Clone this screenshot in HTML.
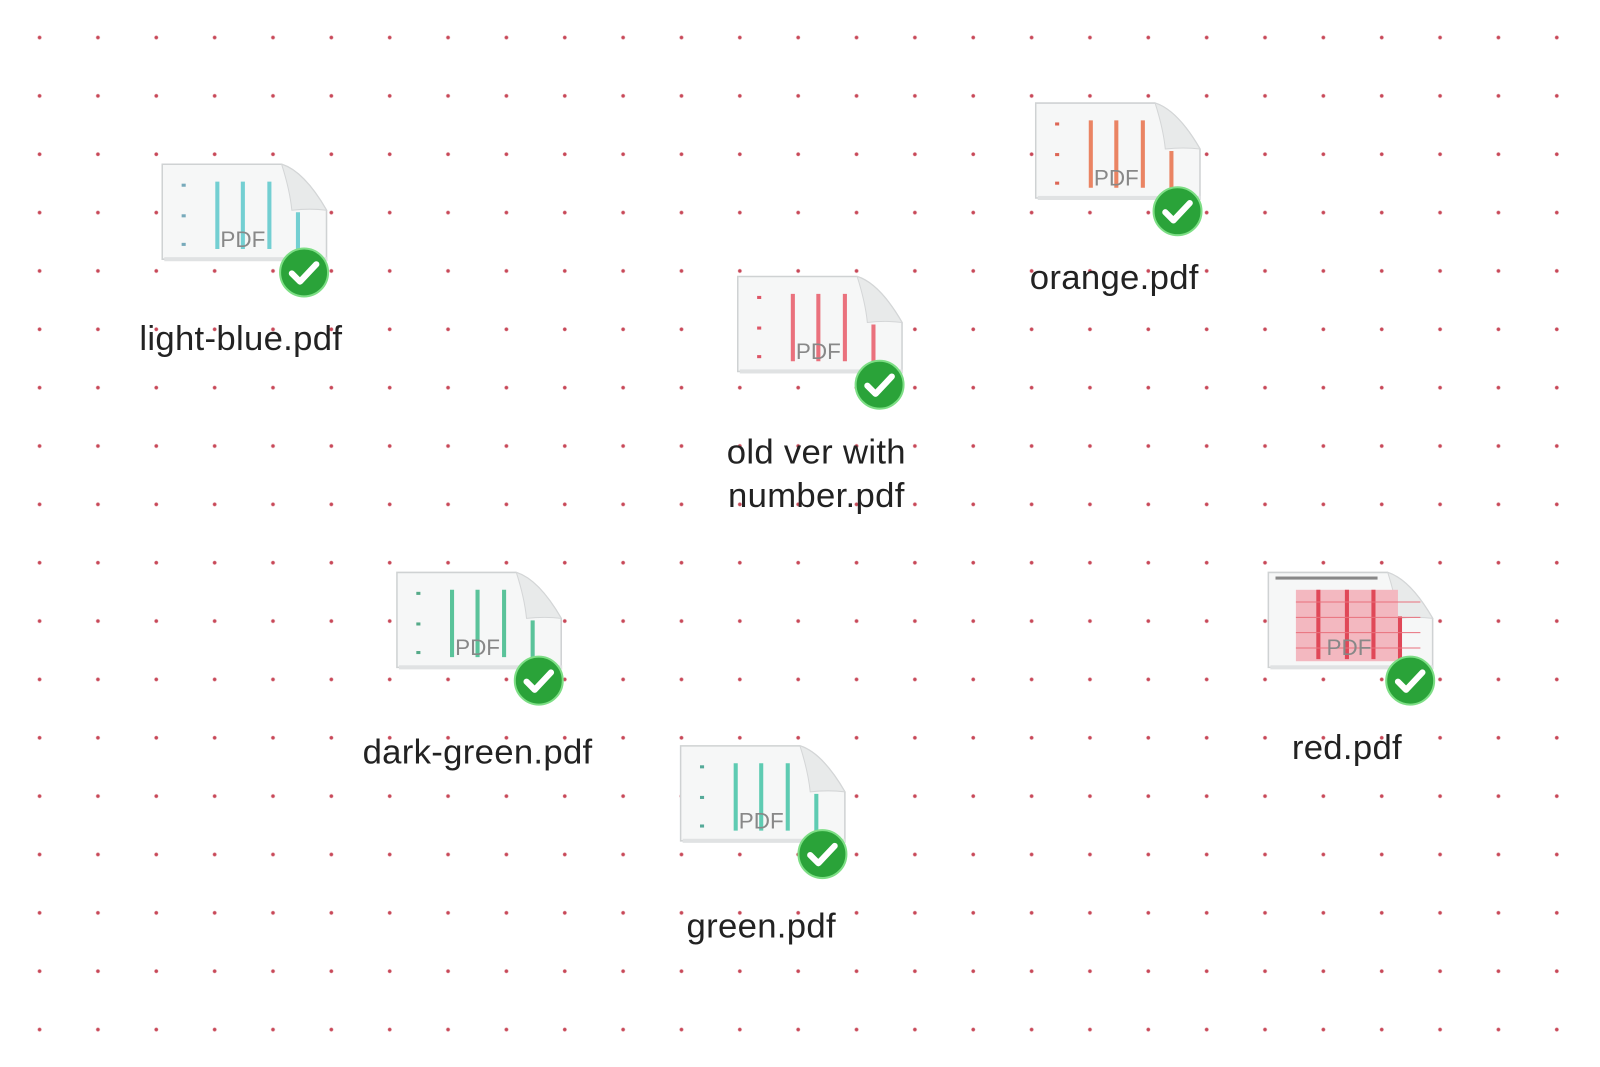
<!DOCTYPE html>
<html><head><meta charset="utf-8"><style>
html,body{margin:0;padding:0}
body{width:1600px;height:1067px;position:relative;overflow:hidden;background:#fff;font-family:"Liberation Sans",sans-serif}
#w{position:absolute;left:0;top:0;width:1568px;height:1046px;transform:scale(1.0204);transform-origin:0 0;
background-image:radial-gradient(circle,#c84858 1.4px,rgba(255,255,255,0) 2.2px);
background-size:57.2px 57.2px;background-position:10.2px 8.2px}
.ic{position:absolute;width:190px;height:140px}
.lb{position:absolute;font-size:34px;letter-spacing:0.3px;color:#222;text-align:center;width:300px;line-height:43px}
</style></head><body><div id="w">
<svg width="0" height="0" style="position:absolute">
<defs>
<symbol id="pg" viewBox="0 0 190 140">
<path d="M1,1 H118 Q140,8 162,46 V94 H1 Z" fill="#f6f7f7" stroke="#cfd2d3" stroke-width="1.5"/>
<path d="M118,1 Q126,26 128,46 Q146,44 162,46 Q140,8 118,1Z" fill="#e8eaea" stroke="#d4d6d7"/>
<rect x="3" y="92" width="160" height="4" fill="#e0e2e3"/>
</symbol>
<symbol id="ck" viewBox="0 0 50 50">
<circle cx="25" cy="25" r="23.5" fill="#2aa339" stroke="#7dde85" stroke-width="2"/>
<path d="M13,26 L21,34 L37,17" fill="none" stroke="#fff" stroke-width="6" stroke-linecap="round" stroke-linejoin="round"/>
</symbol>
</defs></svg>

<svg class="ic" style="left:158px;top:160px" viewBox="0 0 190 140"><use href="#pg"/>
<g stroke="#5cc8cc" stroke-width="4" opacity=".85"><line x1="55" y1="18" x2="55" y2="84"/><line x1="80" y1="18" x2="80" y2="84"/><line x1="106" y1="18" x2="106" y2="84"/><line x1="134" y1="48" x2="134" y2="88"/></g>
<g fill="#7ab"><rect x="20" y="20" width="4" height="3"/><rect x="20" y="50" width="4" height="3"/><rect x="20" y="78" width="4" height="3"/></g>
<text x="80" y="82" font-family="Liberation Sans" font-size="22" fill="#888" text-anchor="middle">PDF</text>
<use href="#ck" x="115" y="82" width="50" height="50"/></svg>
<div class="lb" style="left:86px;top:311px">light-blue.pdf</div>

<svg class="ic" style="left:1014px;top:100px" viewBox="0 0 190 140"><use href="#pg"/>
<g stroke="#e8704a" stroke-width="4" opacity=".85"><line x1="55" y1="18" x2="55" y2="84"/><line x1="80" y1="18" x2="80" y2="84"/><line x1="106" y1="18" x2="106" y2="84"/><line x1="134" y1="48" x2="134" y2="88"/></g>
<g fill="#d65"><rect x="20" y="20" width="4" height="3"/><rect x="20" y="50" width="4" height="3"/><rect x="20" y="78" width="4" height="3"/></g>
<text x="80" y="82" font-family="Liberation Sans" font-size="22" fill="#888" text-anchor="middle">PDF</text>
<use href="#ck" x="115" y="82" width="50" height="50"/></svg>
<div class="lb" style="left:942px;top:251px">orange.pdf</div>

<svg class="ic" style="left:722px;top:270px" viewBox="0 0 190 140"><use href="#pg"/>
<g stroke="#e85a68" stroke-width="4" opacity=".85"><line x1="55" y1="18" x2="55" y2="84"/><line x1="80" y1="18" x2="80" y2="84"/><line x1="106" y1="18" x2="106" y2="84"/><line x1="134" y1="48" x2="134" y2="88"/></g>
<g fill="#d56"><rect x="20" y="20" width="4" height="3"/><rect x="20" y="50" width="4" height="3"/><rect x="20" y="78" width="4" height="3"/></g>
<text x="80" y="82" font-family="Liberation Sans" font-size="22" fill="#888" text-anchor="middle">PDF</text>
<use href="#ck" x="115" y="82" width="50" height="50"/></svg>
<div class="lb" style="left:650px;top:422px">old ver with<br>number.pdf</div>

<svg class="ic" style="left:388px;top:560px" viewBox="0 0 190 140"><use href="#pg"/>
<g stroke="#3fba8a" stroke-width="4" opacity=".85"><line x1="55" y1="18" x2="55" y2="84"/><line x1="80" y1="18" x2="80" y2="84"/><line x1="106" y1="18" x2="106" y2="84"/><line x1="134" y1="48" x2="134" y2="88"/></g>
<g fill="#5a8"><rect x="20" y="20" width="4" height="3"/><rect x="20" y="50" width="4" height="3"/><rect x="20" y="78" width="4" height="3"/></g>
<text x="80" y="82" font-family="Liberation Sans" font-size="22" fill="#888" text-anchor="middle">PDF</text>
<use href="#ck" x="115" y="82" width="50" height="50"/></svg>
<div class="lb" style="left:318px;top:716px">dark-green.pdf</div>

<svg class="ic" style="left:666px;top:730px" viewBox="0 0 190 140"><use href="#pg"/>
<g stroke="#44c4a6" stroke-width="4" opacity=".85"><line x1="55" y1="18" x2="55" y2="84"/><line x1="80" y1="18" x2="80" y2="84"/><line x1="106" y1="18" x2="106" y2="84"/><line x1="134" y1="48" x2="134" y2="88"/></g>
<g fill="#5a9"><rect x="20" y="20" width="4" height="3"/><rect x="20" y="50" width="4" height="3"/><rect x="20" y="78" width="4" height="3"/></g>
<text x="80" y="82" font-family="Liberation Sans" font-size="22" fill="#888" text-anchor="middle">PDF</text>
<use href="#ck" x="115" y="82" width="50" height="50"/></svg>
<div class="lb" style="left:596px;top:887px">green.pdf</div>

<svg class="ic" style="left:1242px;top:560px" viewBox="0 0 190 140"><use href="#pg"/>
<rect x="28" y="18" width="100" height="70" fill="#f3b8c0"/>
<g stroke="#e04858" stroke-width="4"><line x1="50" y1="18" x2="50" y2="86"/><line x1="78" y1="18" x2="78" y2="86"/><line x1="104" y1="18" x2="104" y2="86"/><line x1="130" y1="44" x2="130" y2="86"/></g>
<g stroke="#e8707c" stroke-width="1"><line x1="28" y1="30" x2="150" y2="30"/><line x1="28" y1="45" x2="150" y2="45"/><line x1="28" y1="60" x2="150" y2="60"/><line x1="28" y1="75" x2="150" y2="75"/></g>
<rect x="8" y="5" width="100" height="3" fill="#888"/>
<text x="80" y="82" font-family="Liberation Sans" font-size="22" fill="#888" text-anchor="middle">PDF</text>
<use href="#ck" x="115" y="82" width="50" height="50"/></svg>
<div class="lb" style="left:1170px;top:712px">red.pdf</div>
</div></body></html>
